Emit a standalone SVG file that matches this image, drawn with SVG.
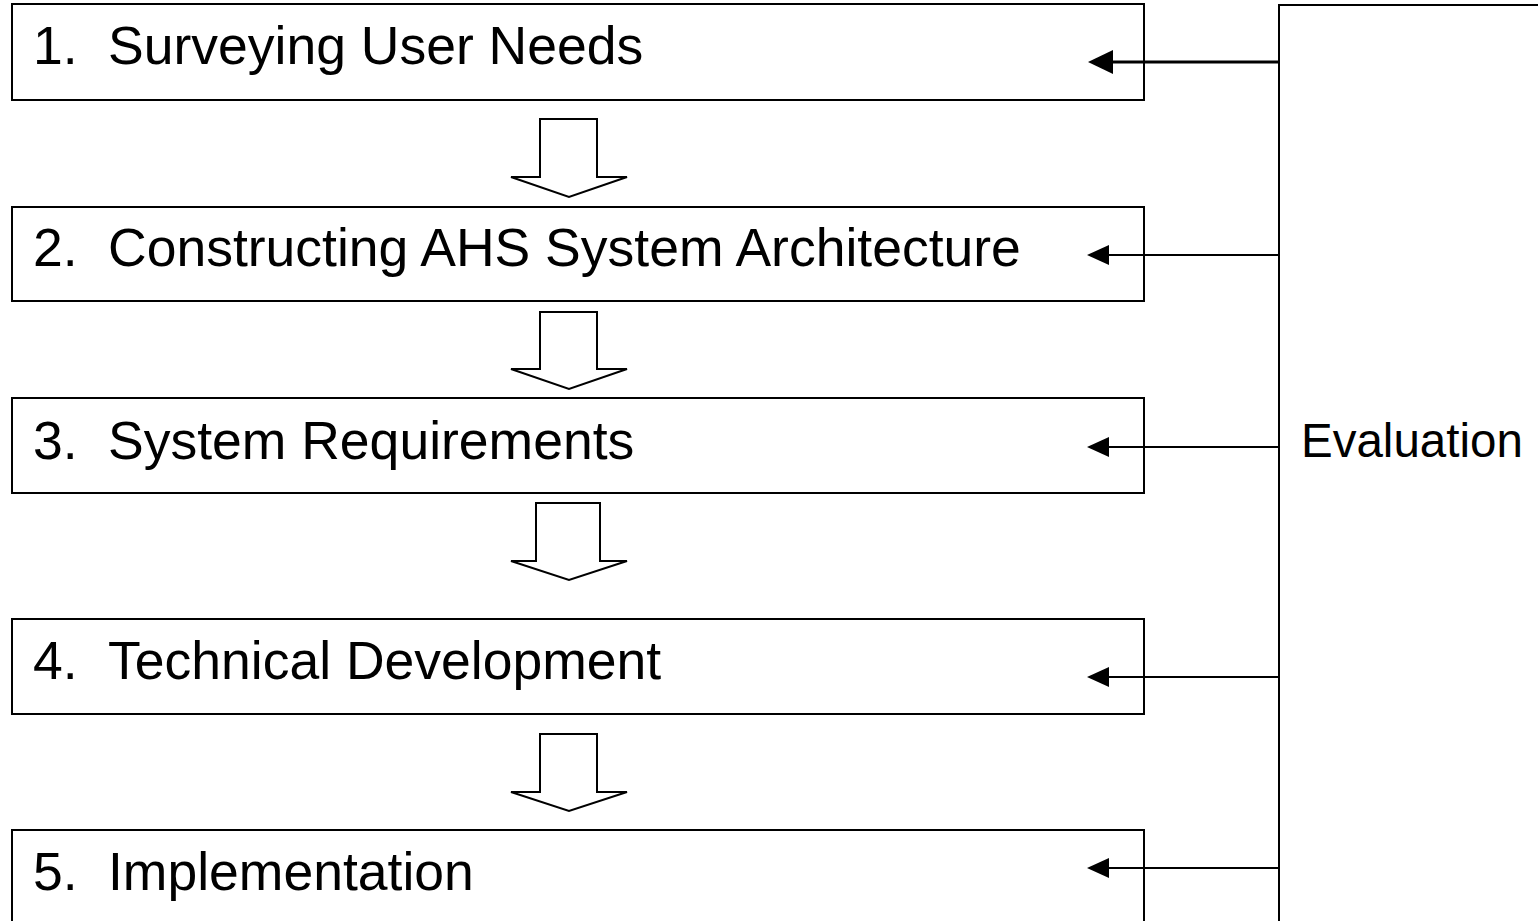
<svg xmlns="http://www.w3.org/2000/svg" width="1538" height="921" viewBox="0 0 1538 921">
<style>
.box{fill:#fff;stroke:#000;stroke-width:2}
.t{font-family:"Liberation Sans",Arial,sans-serif;font-size:53.5px;fill:#000}
.ev{font-family:"Liberation Sans",Arial,sans-serif;font-size:47.5px;fill:#000}
.flow{fill:#fff;stroke:#000;stroke-width:2;stroke-linejoin:miter}
.ln{stroke:#000;stroke-width:2;fill:none}
.hd{fill:#000}
</style>
<rect width="1538" height="921" fill="#fff"/>
<g id="evaluation">
<path class="ln" d="M1279,921 L1279,5 L1540,5"/>
<text class="ev" x="1301" y="457">Evaluation</text>
</g>
<g id="node1">
<rect class="box" x="12" y="4" width="1132" height="96"/>
<text class="t" x="33" y="64">1.</text>
<text class="t" x="108" y="64">Surveying User Needs</text>
</g>
<g id="node2">
<rect class="box" x="12" y="207" width="1132" height="94"/>
<text class="t" x="33" y="266">2.</text>
<text class="t" x="108" y="266">Constructing AHS System Architecture</text>
</g>
<g id="node3">
<rect class="box" x="12" y="398" width="1132" height="95"/>
<text class="t" x="33" y="459">3.</text>
<text class="t" x="108" y="459">System Requirements</text>
</g>
<g id="node4">
<rect class="box" x="12" y="619" width="1132" height="95"/>
<text class="t" x="33" y="679">4.</text>
<text class="t" x="108" y="679">Technical Development</text>
</g>
<g id="node5">
<rect class="box" x="12" y="830" width="1132" height="100"/>
<text class="t" x="33" y="890">5.</text>
<text class="t" x="108" y="890">Implementation</text>
</g>
<g id="connectors">
<path class="flow" d="M540,119 L597,119 L597,177 L627,177 L569,197 L511,177 L540,177 Z"/>
<path class="flow" d="M540,312 L597,312 L597,369 L627,369 L569,389 L511,369 L540,369 Z"/>
<path class="flow" d="M536,503 L600,503 L600,561 L627,561 L569,580 L511,561 L536,561 Z"/>
<path class="flow" d="M540,734 L597,734 L597,792 L627,792 L569,811 L511,792 L540,792 Z"/>
<line x1="1279" y1="62" x2="1110" y2="62" stroke="#000" stroke-width="3"/>
<path class="hd" d="M1088,62 L1113,50 L1113,74 Z"/>
<line class="ln" x1="1279" y1="255" x2="1105" y2="255"/>
<path class="hd" d="M1087,255 L1109,245 L1109,265 Z"/>
<line class="ln" x1="1279" y1="447" x2="1105" y2="447"/>
<path class="hd" d="M1087,447 L1109,437 L1109,457 Z"/>
<line class="ln" x1="1279" y1="677" x2="1105" y2="677"/>
<path class="hd" d="M1087,677 L1109,667 L1109,687 Z"/>
<line class="ln" x1="1279" y1="868" x2="1105" y2="868"/>
<path class="hd" d="M1087,868 L1109,858 L1109,878 Z"/>
</g>
</svg>
